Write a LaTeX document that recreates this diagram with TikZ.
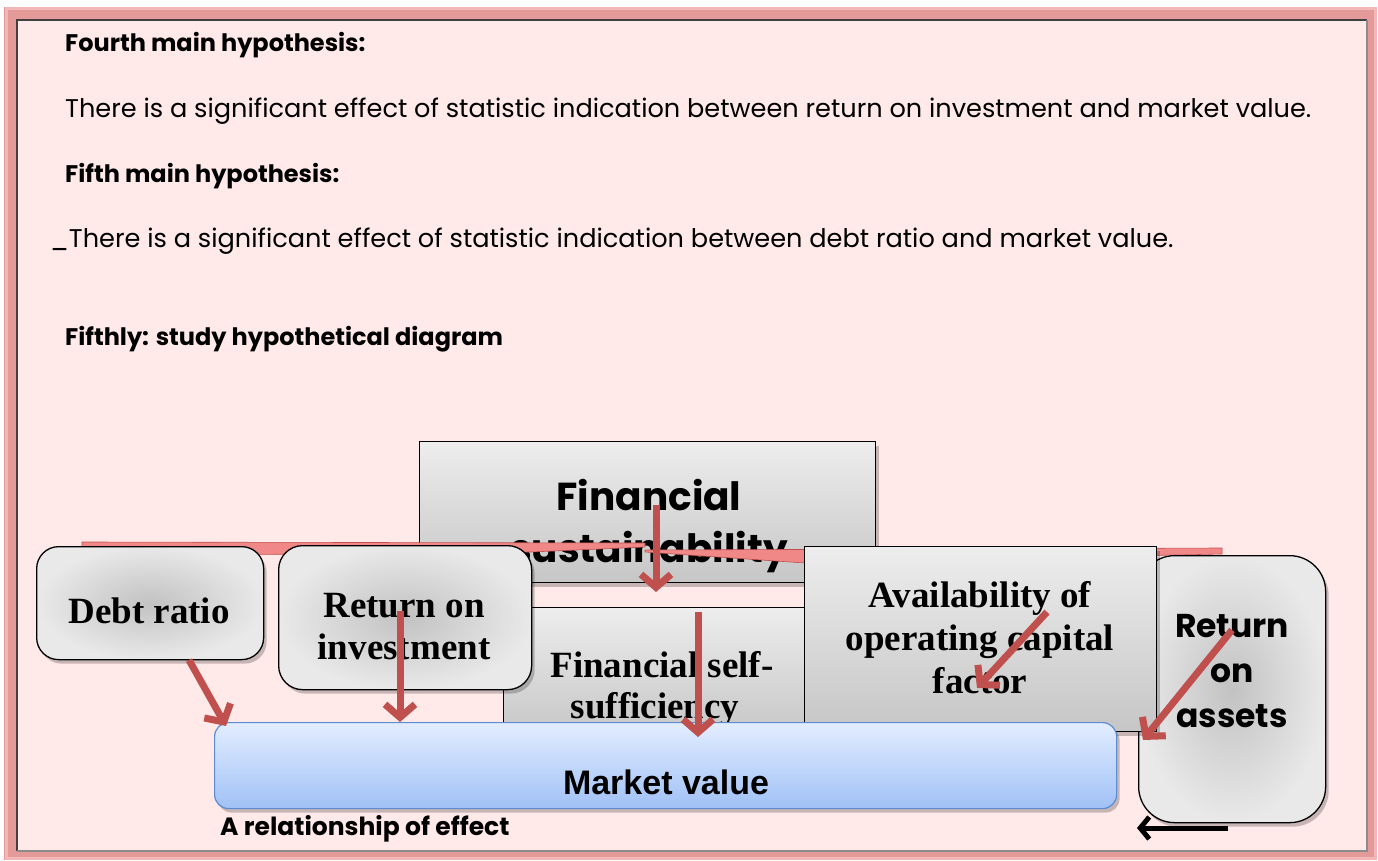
\documentclass[tikz,border=0pt]{standalone}
\usepackage{fontspec}
\setmainfont{Poppins}
\newfontfamily\tnr{Liberation Serif}
\newfontfamily\arl{Liberation Sans}
\usetikzlibrary{arrows.meta,shadows}

\definecolor{framepink}{HTML}{E59A9A}
\definecolor{framelite}{HTML}{F2B8B8}
\definecolor{pagepink}{HTML}{FFE9E9}
\definecolor{effred}{HTML}{C0504D}
\definecolor{bandred}{HTML}{F08888}
\definecolor{boxtop}{HTML}{EDEDED}
\definecolor{boxbot}{HTML}{C6C6C6}
\definecolor{boxin}{HTML}{C2C2C2}
\definecolor{boxout}{HTML}{E9E9E9}
\definecolor{mvtop}{HTML}{E3EDFF}
\definecolor{mvbot}{HTML}{A0C1F6}
\definecolor{mvline}{HTML}{5B8DD0}

\tikzset{
  txt/.style={anchor=base west, inner sep=0pt},
  ctxt/.style={anchor=base, inner sep=0pt},
  bodyfont/.style={font=\fontsize{25.6}{30}\selectfont},
  headfont/.style={font=\bfseries\fontsize{24}{28}\selectfont},
  boxshadow/.style={drop shadow={shadow xshift=3pt, shadow yshift=-4pt, fill=black, opacity=0.22}},
  rectbox/.style={draw=black, line width=1.3pt, top color=boxtop, bottom color=boxbot,
    anchor=north west, inner sep=0pt, boxshadow},
  roundbox/.style={draw=black, line width=1.3pt, inner color=boxin, outer color=boxout,
    anchor=north west, inner sep=0pt, boxshadow},
  mvbox/.style={draw=mvline, line width=1.2pt, top color=mvtop, bottom color=mvbot,
    rounded corners=14pt, anchor=north west, inner sep=0pt, boxshadow},
  effect/.style={draw=effred, line width=7pt, -{Straight Barb[length=13pt,width=30pt]}},
  keyarrow/.style={draw=black, line width=5pt, -{Straight Barb[length=9pt,width=22pt]}},
  serifbox/.style={ctxt, font=\tnr\bfseries\fontsize{37}{43}\selectfont},
  sansbox/.style={ctxt, font=\bfseries\fontsize{33}{45}\selectfont},
  band/.style={fill=bandred, draw=effred, line width=0.6pt},
}

\begin{document}
\begin{tikzpicture}[x=1pt, y=-1pt]
  % page and frame
  \path[use as bounding box, fill=white] (0,0) rectangle (1378,861);
  \fill[framepink] (4,7) rectangle (1377,860);
  \draw[framelite, line width=3pt] (6,9) rectangle (1375,858);
  \fill[pagepink] (17,20) rectangle (1367,851);
  \draw[black!75, line width=2pt] (17,851) -- (17,20) -- (1367,20);
  \draw[black!45, line width=1.2pt] (1367,20) -- (1367,851) -- (17,851);

  % hypotheses text
  \node[txt, headfont] (h4) at (65,52) {Fourth main hypothesis:};
  \node[txt, bodyfont] (h4t) at (65,118)
    {There is a significant effect of statistic indication between return on investment and market value.};
  \node[txt, headfont] (h5) at (65,183) {Fifth main hypothesis:};
  \node[txt, bodyfont] (h5t) at (50,247)
    {\_There is a significant effect of statistic indication between debt ratio and market value.};
  \node[txt, headfont] (h6) at (65,345) {Fifthly: study hypothetical diagram};

  % central variable
  \node[rectbox, minimum width=456pt, minimum height=141pt] (fs) at (419,441) {};
  \node[ctxt, font=\bfseries\fontsize{39}{47}\selectfont] (fs1) at (649,510) {Financial};
  \node[ctxt, font=\bfseries\fontsize{39}{47}\selectfont] (fs2) at (649,562) {sustainability};

  % effect band
  \fill[band] (82,542) -- (645,543) -- (645,547) -- (531,552) -- (82,556) -- cycle;
  \fill[band] (645,550) -- (1222,548) -- (1222,554) -- (805,563) -- (645,552) -- cycle;

  % variables
  \node[rectbox, minimum width=301pt, minimum height=130pt] (fss) at (503,607) {};
  \node[serifbox] (fss1) at (662,677) {Financial self-};
  \node[serifbox] (fss2) at (655,718) {sufficiency};

  \node[roundbox, rounded corners=36pt, minimum width=187pt, minimum height=267pt] (roa) at (1138,555) {};
  \node[sansbox] (roa1) at (1232,637) {Return};
  \node[sansbox] (roa2) at (1232,682) {on};
  \node[sansbox] (roa3) at (1232,727) {assets};

  \node[roundbox, rounded corners=22pt, minimum width=227pt, minimum height=113pt] (debt) at (36,546) {};
  \node[serifbox] (debt1) at (149,623) {Debt ratio};

  \node[roundbox, rounded corners=24pt, minimum width=253pt, minimum height=144pt] (roi) at (278,545) {};
  \node[serifbox] (roi1) at (404,617) {Return on};
  \node[serifbox] (roi2) at (404,659) {investment};

  \node[rectbox, minimum width=352pt, minimum height=185pt] (avail) at (804,546) {};
  \node[serifbox] (av1) at (980,607) {Availability of};
  \node[serifbox] (av2) at (980,650) {operating capital};
  \node[serifbox] (av3) at (980,693) {factor};

  % dependent variable
  \node[mvbox, minimum width=902pt, minimum height=86pt] (mv) at (214,722) {};
  \node[ctxt, font=\arl\bfseries\fontsize{34}{40}\selectfont] (mv1) at (666,794) {Market value};

  % effect arrows
  \coordinate (fsS) at (656,505);   \coordinate (fsE) at (656,592);
  \coordinate (dS)  at (189,660);   \coordinate (dE)  at (226,726);
  \coordinate (rS)  at (400,611);   \coordinate (rE)  at (400,722);
  \coordinate (sS)  at (698,612);   \coordinate (sE)  at (698,737);
  \coordinate (aS)  at (1047,612);  \coordinate (aE)  at (977,688);
  \coordinate (oS)  at (1232,630);  \coordinate (oE)  at (1143,740);
  \draw[effect] (fsS) -- (fsE);
  \draw[effect] (dS) -- (dE);
  \draw[effect] (rS) -- (rE);
  \draw[effect] (sS) -- (sE);
  \draw[effect] (aS) -- (aE);
  \draw[effect] (oS) -- (oE);

  % key
  \node[txt, font=\bfseries\fontsize{25}{30}\selectfont] (key) at (220,835) {A relationship of effect};
  \coordinate (kS) at (1228,828);
  \coordinate (kE) at (1137,828);
  \draw[keyarrow] (kS) -- (kE);
\end{tikzpicture}
\end{document}
